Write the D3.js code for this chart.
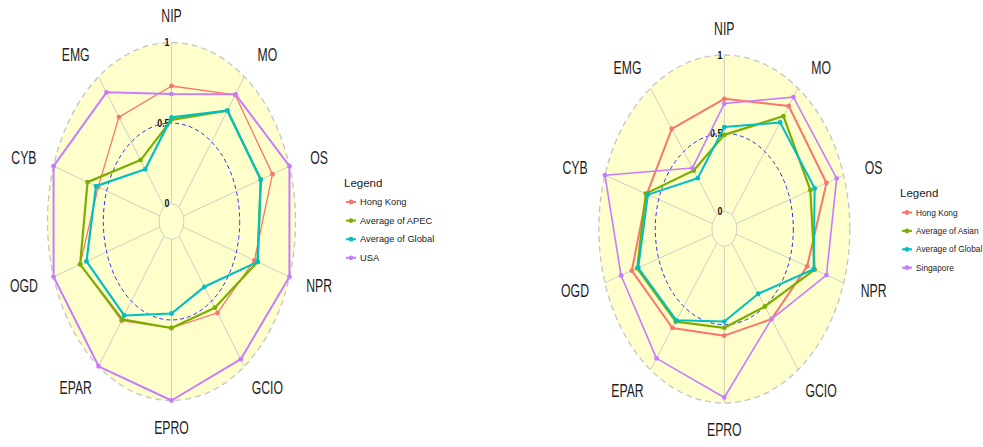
<!DOCTYPE html>
<html>
<head>
<meta charset="utf-8">
<script src="https://cdn.jsdelivr.net/npm/d3@7"></script>
<style>
    html, body { margin: 0; padding: 0; background: #fff; }
    svg { display: block; }
    text { font-family: "Liberation Sans", Arial, sans-serif; }
</style>
</head>
<body>
<svg id="chart" width="983" height="447"></svg>
<script>
'use strict';

/* global d3:false */

var axes = ['NIP', 'MO', 'OS', 'NPR', 'GCIO', 'EPRO', 'EPAR', 'OGD', 'CYB', 'EMG'];
var gridTicks = [0, 0.5, 1];
var tickLabels = ['0', '0.5', '1'];

// left panel
var leftNames = ['Hong Kong', 'Average of APEC', 'Average of Global', 'USA'];
var hkLeft = [0.73, 0.86, 0.84, 0.67, 0.59, 0.55, 0.65, 0.75, 0.58, 0.69];
var apec = [0.52, 0.74, 0.73, 0.70, 0.55, 0.55, 0.64, 0.75, 0.68, 0.36];
var globalLeft = [0.535, 0.74, 0.73, 0.70, 0.39, 0.46, 0.61, 0.69, 0.60, 0.29];
var usa = [0.68, 0.865, 1.0, 1.0, 0.945, 1.0, 1.0, 1.0, 1.0, 0.88];

// right panel
var rightNames = ['Hong Kong', 'Average of Asian', 'Average of Global', 'Singapore'];
var hkRight = [0.72, 0.86, 0.84, 0.66, 0.60, 0.57, 0.67, 0.75, 0.61, 0.68];
var asian = [0.49, 0.78, 0.69, 0.73, 0.50, 0.52, 0.62, 0.70, 0.62, 0.35];
var globalRight = [0.54, 0.73, 0.73, 0.72, 0.40, 0.48, 0.61, 0.69, 0.60, 0.29];
var singapore = [0.69, 0.93, 0.935, 0.84, 0.60, 0.965, 0.91, 0.85, 1.0, 0.37];

var colors = ['#F8766D', '#7CAE00', '#00BFC4', '#C77CFF'];

var svg = d3.select('#chart');

var panels = [
    {
        cx: 171.5, cy: 221.5, rx: 124, ry: 179,
        names: leftNames,
        series: [hkLeft, apec, globalLeft, usa],
        widths: [1.3, 2.2, 2.2, 2],
        legend: {x: 344, y: 183, size: 9.3, first: 202, step: 18.6}
    },
    {
        cx: 724.3, cy: 229, rx: 125.5, ry: 174,
        names: rightNames,
        series: [hkRight, asian, globalRight, singapore],
        widths: [2, 2.2, 2, 1.6],
        legend: {x: 900, y: 193, size: 8.3, first: 212.5, step: 18.4}
    }
];

function drawRadar(p) {
    var g = svg.append('g').attr('class', 'radar');

    var angle = d3.scaleLinear().domain([0, axes.length]).range([0, 2 * Math.PI]);
    // ggradar style: the centre sits 1/9 of the range below the minimum
    var rX = d3.scaleLinear().domain([-1 / 9, 1]).range([0, p.rx]);
    var rY = d3.scaleLinear().domain([-1 / 9, 1]).range([0, p.ry]);

    function px(v, i) { return p.cx + rX(v) * Math.sin(angle(i)); }
    function py(v, i) { return p.cy - rY(v) * Math.cos(angle(i)); }

    // background
    g.append('ellipse')
        .attr('cx', p.cx).attr('cy', p.cy)
        .attr('rx', rX(1)).attr('ry', rY(1))
        .style('fill', '#ffffcc')
        .style('stroke', '#c4c4c4')
        .style('stroke-width', 1.3)
        .style('stroke-dasharray', '6,4');

    // spokes
    g.selectAll('line.spoke')
        .data(axes)
        .enter().append('line')
            .attr('class', 'spoke')
            .attr('x1', function(d, i) { return px(0, i); })
            .attr('y1', function(d, i) { return py(0, i); })
            .attr('x2', function(d, i) { return px(1, i); })
            .attr('y2', function(d, i) { return py(1, i); })
            .style('stroke', '#cfcfc4')
            .style('stroke-width', 1);

    // inner (0) ring
    g.append('ellipse')
        .attr('cx', p.cx).attr('cy', p.cy)
        .attr('rx', rX(0)).attr('ry', rY(0))
        .style('fill', '#ffffcf')
        .style('stroke', '#cfcfc4')
        .style('stroke-width', 1);

    // 0.5 ring
    g.append('ellipse')
        .attr('cx', p.cx).attr('cy', p.cy)
        .attr('rx', rX(0.5)).attr('ry', rY(0.5))
        .style('fill', 'none')
        .style('stroke', '#2b2bff')
        .style('stroke-width', 1)
        .style('stroke-dasharray', '4,3');

    // tick labels along the first spoke
    g.selectAll('text.tick')
        .data(gridTicks)
        .enter().append('text')
            .attr('class', 'tick')
            .attr('transform', function(d) {
                return 'translate(' + (p.cx - 2) + ',' + py(d, 0) + ') scale(0.8,1)';
            })
            .attr('text-anchor', 'end')
            .attr('dominant-baseline', 'central')
            .style('font-size', '11px')
            .style('font-weight', 'bold')
            .style('fill', '#111')
            .text(function(d, i) { return tickLabels[i]; });

    // axis labels
    g.selectAll('text.axis-label')
        .data(axes)
        .enter().append('text')
            .attr('class', 'axis-label')
            .attr('transform', function(d, i) {
                var s = Math.sin(angle(i)),
                    shift = Math.abs(s) < 1e-6 ? 0 : (s > 0 ? 12 : -12),
                    x = p.cx + 1.15 * p.rx * s + shift,
                    y = p.cy - 1.15 * p.ry * Math.cos(angle(i));
                return 'translate(' + x + ',' + y + ') scale(0.68,1)';
            })
            .attr('text-anchor', 'middle')
            .attr('dominant-baseline', 'central')
            .style('font-size', '18px')
            .style('fill', '#1e1e1e')
            .text(function(d) { return d; });

    var line = d3.line()
        .x(function(d, i) { return px(d, i); })
        .y(function(d, i) { return py(d, i); })
        .curve(d3.curveLinearClosed);

    var traces = g.selectAll('g.trace')
        .data(p.series)
        .enter().append('g')
            .attr('class', 'trace');

    traces.append('path')
        .attr('d', function(d) { return line(d); })
        .style('fill', 'none')
        .style('stroke', function(d, k) { return colors[k]; })
        .style('stroke-width', function(d, k) { return p.widths[k]; })
        .style('stroke-linejoin', 'round');

    traces.each(function(values, k) {
        d3.select(this).selectAll('circle')
            .data(values)
            .enter().append('circle')
                .attr('cx', function(d, i) { return px(d, i); })
                .attr('cy', function(d, i) { return py(d, i); })
                .attr('r', 2.4)
                .style('fill', colors[k]);
    });

    // legend
    var lg = p.legend,
        leg = g.append('g').attr('class', 'legend');

    leg.append('text')
        .attr('x', lg.x).attr('y', lg.y)
        .attr('dominant-baseline', 'central')
        .style('font-size', '11.5px')
        .style('fill', '#222')
        .text('Legend');

    var items = leg.selectAll('g.item')
        .data(p.names)
        .enter().append('g')
            .attr('class', 'item')
            .attr('transform', function(d, k) {
                return 'translate(' + lg.x + ',' + (lg.first + k * lg.step) + ')';
            });

    items.append('line')
        .attr('x1', 2).attr('x2', 12)
        .style('stroke', function(d, k) { return colors[k]; })
        .style('stroke-width', 2);

    items.append('circle')
        .attr('cx', 7).attr('r', 2.4)
        .style('fill', function(d, k) { return colors[k]; });

    items.append('text')
        .attr('x', 16)
        .attr('dominant-baseline', 'central')
        .style('font-size', lg.size + 'px')
        .style('fill', '#222')
        .text(function(d) { return d; });
}

panels.forEach(drawRadar);
</script>
</body>
</html>
